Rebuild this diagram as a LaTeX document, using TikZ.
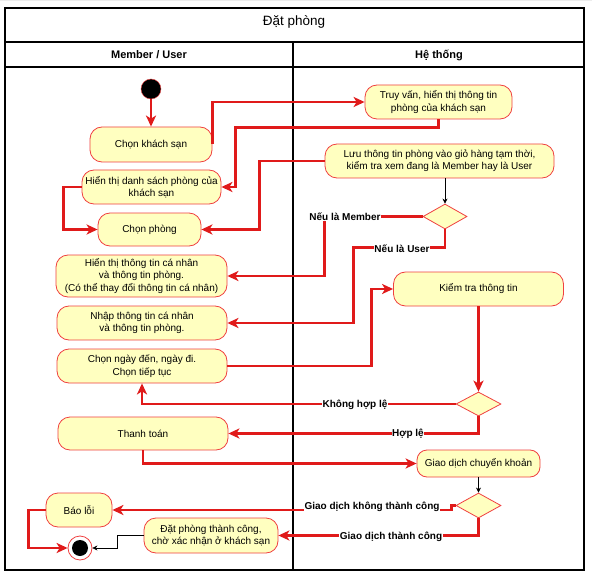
\documentclass[tikz,border=0pt]{standalone}
\usepackage{fontspec}
\setmainfont{Liberation Sans}
\usetikzlibrary{shapes.geometric,arrows.meta,positioning,calc}

\definecolor{actfill}{HTML}{FFFFC0}
\definecolor{actline}{HTML}{F04040}
\definecolor{flowred}{HTML}{E01A1A}

\tikzset{
  act/.style={draw=actline,fill=actfill,rounded corners=12pt,line width=0.8pt,
    align=center,inner sep=1pt,font=\fontsize{10}{12.5}\selectfont},
  choice/.style={diamond,draw=actline,fill=actfill,line width=0.8pt,inner sep=0pt,
    minimum width=45pt,minimum height=25pt},
  flow/.style={draw=flowred,line width=2.4pt,
    -{Stealth[length=11pt,width=10pt,inset=3pt]}},
  thinflow/.style={draw=black,line width=0.7pt,-{Stealth[length=5pt,width=5pt]}},
  cond/.style={fill=white,inner sep=0.5pt,font=\fontsize{10}{12}\selectfont\bfseries},
}

\begin{document}
\begin{tikzpicture}[x=1pt,y=-1pt]
  \useasboundingbox (0,0) rectangle (592,575);
  % canvas grid and frame
  \draw[black!7,line width=0.4pt,step=10pt] (0,0) grid (592,-575);
  \fill[white] (5,8) rectangle (584,570);
  \draw[line width=1.2pt] (5,8) rectangle (584,570);
  \draw[line width=1.2pt] (5,42) -- (584,42);
  \draw[line width=1.2pt] (5,67) -- (584,67);
  \draw[line width=1.2pt] (293,42) -- (293,570);
  \node[font=\fontsize{13.5}{16}\selectfont] (title) at (294,22) {Đặt phòng};
  \node[font=\fontsize{11}{13}\selectfont\bfseries] (laneuser) at (149,55) {Member / User};
  \node[font=\fontsize{11}{13}\selectfont\bfseries] (lanesys) at (439,55) {Hệ thống};

  % Member / User lane
  \node[circle,draw=actline,fill=black,minimum size=20pt,inner sep=0pt] (start) at (151,89) {};
  \node[act,minimum width=122pt,minimum height=35pt] (cks) at (151,144.5) {Chọn khách sạn};
  \node[act,minimum width=139pt,minimum height=34pt] (ds) at (151.5,187) {Hiển thị danh sách phòng của\\khách sạn};
  \node[act,minimum width=103pt,minimum height=33pt] (cp) at (149.5,229.5) {Chọn phòng};
  \node[act,minimum width=171pt,minimum height=42pt] (hi) at (141.5,276) {Hiển thị thông tin cá nhân\\và thông tin phòng.\\(Có thể thay đổi thông tin cá nhân)};
  \node[act,minimum width=170pt,minimum height=34pt] (nh) at (142,323) {Nhập thông tin cá nhân\\và thông tin phòng.};
  \node[act,minimum width=170pt,minimum height=34pt] (cn) at (142,366) {Chọn ngày đến, ngày đi.\\Chọn tiếp tục};
  \node[act,minimum width=170pt,minimum height=33pt] (tt) at (143,433.5) {Thanh toán};
  \node[act,minimum width=66pt,minimum height=34pt] (bl) at (79,510) {Báo lỗi};
  \node[act,minimum width=134pt,minimum height=35pt] (dp) at (211,535.5) {Đặt phòng thành công,\\chờ xác nhận ở khách sạn};
  \node[circle,draw=actline,fill=white,line width=0.8pt,minimum size=24pt,inner sep=0pt,
    path picture={\fill[black] (path picture bounding box.center) circle (8pt);}] (end) at (80,548) {};

  % Hệ thống lane
  \node[act,minimum width=147pt,minimum height=34pt] (tv) at (438.5,102) {Truy vấn, hiển thị thông tin\\phòng của khách sạn};
  \node[act,minimum width=229pt,minimum height=34pt] (lt) at (439.5,161) {Lưu thông tin phòng vào giỏ hàng tạm thời,\\kiểm tra xem đang là Member hay là User};
  \node[choice,minimum width=44pt] (d1) at (445,216.5) {};
  \node[act,minimum width=170pt,minimum height=34pt] (kt) at (478.5,289) {Kiểm tra thông tin};
  \node[choice,minimum height=24pt] (d2) at (478.5,404) {};
  \node[act,rounded corners=10pt,minimum width=123pt,minimum height=27pt] (gd) at (478.5,463.5) {Giao dịch chuyển khoản};
  \node[choice] (d3) at (478.5,505.5) {};

  % connectors
  \draw[flow] (start) -- (cks);
  \draw[flow] (cks.east) |- (tv.west);
  \draw[flow] (tv.south) -- ++(0,8) -| ($(ds.east)+(14,0)$) -- (ds.east);
  \draw[flow] (ds.west) -- ++(-18,0) |- (cp.west);
  \draw[flow] (lt.west) -- ++(-65,0) |- (cp.east);
  \draw[thinflow] (lt.south -| d1.north) -- (d1.north);
  \draw[flow] (d1.west) -| ($(hi.east)+(97,0)$) -- (hi.east);
  \draw[flow] (d1.south) -- ++(0,18) -| ($(nh.east)+(126,0)$) -- (nh.east);
  \draw[flow] (cn.east) -- ++(144,0) |- (kt.west);
  \draw[flow] (kt.south) -- (d2.north);
  \draw[flow] (d2.west) -| (cn.south);
  \draw[flow] (d2.south) |- (tt.east);
  \draw[flow] (tt.south) |- (gd.west);
  \draw[thinflow] (gd.south) -- (d3.north);
  \draw[flow] (d3.west) -- ++(-4,0) |- (bl.east);
  \draw[flow] (d3.south) |- (dp.east);
  \draw[flow] (bl.west) -- ++(-17,0) |- (end.west);
  \draw[thinflow] (dp.west) -- ++(-26,0) |- (end.east);

  % guard labels
  \node[cond] (gmember) at (345,217) {Nếu là Member};
  \node[cond] (guser) at (402,249) {Nếu là User};
  \node[cond] (gbad) at (355,405) {Không hợp lệ};
  \node[cond] (gok) at (408,433.5) {Hợp lệ};
  \node[cond] (gfail) at (372,507) {Giao dịch không thành công};
  \node[cond] (gdone) at (391,537) {Giao dịch thành công};
\end{tikzpicture}
\end{document}
